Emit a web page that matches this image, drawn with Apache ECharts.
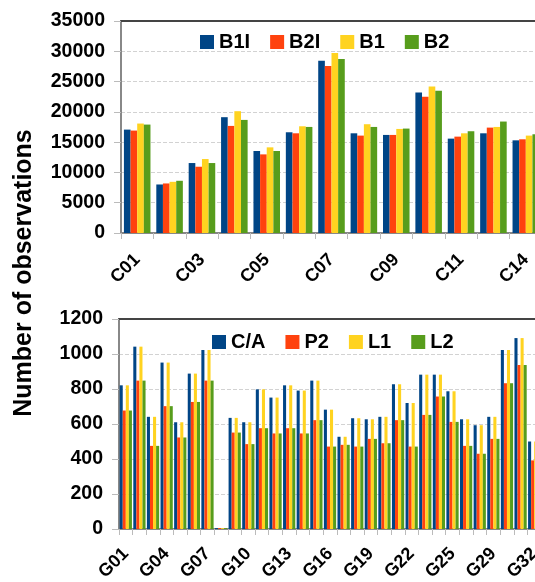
<!DOCTYPE html>
<html>
<head>
<meta charset="utf-8">
<script src="https://cdn.jsdelivr.net/npm/echarts@6/dist/echarts.min.js"></script>
<style>
html,body{margin:0;padding:0;background:#fff;}
#chart{width:535px;height:582px;}
</style>
</head>
<body>
<div id="chart"></div>
<script>
// ---- Data: BeiDou (top panel) ----
const bdsCategories = ['C01','C02','C03','C04','C05','C06','C07','C08','C09','C10','C11','C12','C14'];
const B1I = [17070, 8010, 11550, 19120, 13540, 16630, 28450, 16460, 16190, 23200, 15580, 16460, 15300];
const B2I = [16910, 8180, 10940, 17680, 12980, 16460, 27570, 16080, 16190, 22490, 15910, 17400, 15470];
const B1  = [18070, 8450, 12210, 20110, 14140, 17620, 29720, 17960, 17180, 24200, 16460, 17510, 16080];
const B2  = [17900, 8620, 11550, 18670, 13540, 17510, 28730, 17510, 17240, 23480, 16800, 18400, 16300];
const bdsTicks = [0, 5000, 10000, 15000, 20000, 25000, 30000, 35000];

// ---- Data: GPS (bottom panel) ----
const gpsCategories = ['G01','G02','G03','G04','G05','G06','G07','G08','G09','G10','G11','G12','G13','G14','G15','G16',
  'G17','G18','G19','G20','G21','G22','G23','G24','G25','G26','G28','G29','G30','G31','G32'];
const CA = [821, 1042, 641, 951, 610, 888, 1023, 5, 635, 610, 798, 751, 821, 791, 848, 682,
  527, 633, 627, 641, 827, 720, 882, 882, 787, 627, 593, 641, 1023, 1091, 500];
const P2 = [677, 848, 475, 702, 523, 726, 848, 5, 551, 485, 576, 546, 576, 546, 622, 471,
  481, 471, 515, 490, 622, 471, 652, 757, 612, 475, 430, 515, 833, 937, 392];
const L1 = [821, 1042, 641, 951, 610, 888, 1023, 5, 635, 610, 798, 751, 821, 791, 848, 682,
  527, 633, 627, 641, 827, 720, 882, 882, 787, 627, 593, 641, 1023, 1091, 500];
const L2 = [677, 848, 475, 702, 523, 726, 848, 5, 551, 485, 576, 546, 576, 546, 622, 471,
  481, 471, 515, 490, 622, 471, 652, 757, 612, 475, 430, 515, 833, 937, 392];
const gpsTicks = [0, 200, 400, 600, 800, 1000, 1200];

const colors = ['#004586', '#ff420e', '#ffd320', '#579d1c'];
const FONT = '"Liberation Sans", Arial, sans-serif';

const chart = echarts.init(document.getElementById('chart'), null, {renderer: 'canvas'});

function bottomAxis(grid, cats, interval, margin) {
  return {
    type: 'category', gridIndex: grid, data: cats, position: 'bottom',
    axisLine: {onZero: false, lineStyle: {color: '#888', width: 2}},
    axisTick: {show: true, interval: 0, length: 6, lineStyle: {color: '#bbb', width: 1}},
    axisLabel: {interval: interval, rotate: 45, fontSize: 18, fontWeight: 'bold', color: '#000',
      fontFamily: FONT, margin: margin, hideOverlap: false}
  };
}
function topAxis(grid, cats) {
  return {
    type: 'category', gridIndex: grid, data: cats, position: 'top',
    axisLine: {onZero: false, lineStyle: {color: '#444', width: 2}},
    axisTick: {show: false}, axisLabel: {show: false}
  };
}
function valAxis(grid, ticks) {
  return {
    type: 'value', gridIndex: grid, min: ticks[0], max: ticks[ticks.length - 1],
    interval: ticks[1] - ticks[0],
    axisLine: {show: true, lineStyle: {color: '#888', width: 2}},
    axisTick: {show: true, length: 7, lineStyle: {color: '#bbb', width: 1}},
    axisLabel: {fontSize: 19.5, fontWeight: 'bold', color: '#000', fontFamily: FONT, margin: 16,
      formatter: function (v) { return String(v); }},
    splitLine: {show: true, lineStyle: {type: 'dashed', color: '#d2d2d2', width: 1}}
  };
}
function bar(name, data, xi, yi, color, gap) {
  return {
    name: name, type: 'bar', data: data, xAxisIndex: xi, yAxisIndex: yi,
    itemStyle: {color: color}, barGap: '0%', barCategoryGap: gap
  };
}
const legendBase = {
  orient: 'horizontal', icon: 'rect', itemWidth: 14, itemHeight: 14, itemGap: 20, padding: 0,
  textStyle: {fontSize: 20, fontWeight: 'bold', color: '#000', fontFamily: FONT}
};

chart.setOption({
  animation: false,
  backgroundColor: '#fff',
  color: colors,
  grid: [
    {left: 121, top: 21, width: 421, height: 212, containLabel: false, outerBoundsMode: 'none'},
    {left: 119, top: 319, width: 422, height: 210, containLabel: false, outerBoundsMode: 'none'}
  ],
  xAxis: [
    bottomAxis(0, bdsCategories, 1, 24), topAxis(0, bdsCategories),
    bottomAxis(1, gpsCategories, 2, 22), topAxis(1, gpsCategories)
  ],
  yAxis: [valAxis(0, bdsTicks), valAxis(1, gpsTicks)],
  legend: [
    Object.assign({}, legendBase, {data: ['B1I', 'B2I', 'B1', 'B2'], left: 200, top: 32}),
    Object.assign({}, legendBase, {data: ['C/A', 'P2', 'L1', 'L2'], left: 212, top: 332})
  ],
  graphic: [{
    type: 'text', x: 24, y: 273, rotation: Math.PI / 2,
    style: {text: 'Number of observations', fontSize: 25, fontWeight: 'bold', fontFamily: FONT,
      fill: '#000', align: 'center', verticalAlign: 'middle'}
  }],
  series: [
    bar('B1I', B1I, 0, 0, colors[0], '18%'),
    bar('B2I', B2I, 0, 0, colors[1], '18%'),
    bar('B1', B1, 0, 0, colors[2], '18%'),
    bar('B2', B2, 0, 0, colors[3], '18%'),
    bar('C/A', CA, 2, 1, colors[0], '10%'),
    bar('P2', P2, 2, 1, colors[1], '10%'),
    bar('L1', L1, 2, 1, colors[2], '10%'),
    bar('L2', L2, 2, 1, colors[3], '10%')
  ]
});
</script>
</body>
</html>
